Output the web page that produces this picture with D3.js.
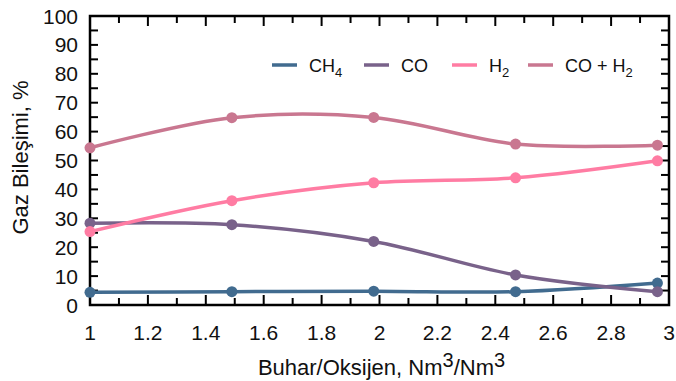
<!DOCTYPE html>
<html lang="tr">
<head>
<meta charset="utf-8">
<title>Gaz Bileşimi</title>
<script src="https://d3js.org/d3.v7.min.js"></script>
<style>
  body { margin: 0; background: #fff; }
  svg text { font-family: "Liberation Sans", Arial, sans-serif; fill: #111; }
</style>
</head>
<body>
<div id="chart"></div>
<script>
  // data
  var ratio = [1, 1.49, 1.98, 2.47, 2.96];
  var ch4   = [4.4, 4.6, 4.8, 4.6, 7.6];
  var co    = [28.3, 27.8, 22.0, 10.4, 4.6];
  var h2    = [25.4, 36.1, 42.3, 44.0, 49.9];
  var coH2  = [54.4, 64.8, 64.9, 55.7, 55.3];
  var xTicks = [1, 1.2, 1.4, 1.6, 1.8, 2, 2.2, 2.4, 2.6, 2.8, 3];
  var yTicks = [0, 10, 20, 30, 40, 50, 60, 70, 80, 90, 100];

  var series = [
    {name: "CH", sub: "4", values: ch4, color: "#416b8f"},
    {name: "CO", sub: "", values: co, color: "#79628a"},
    {name: "H", sub: "2", values: h2, color: "#ff7ca3"},
    {name: "CO + H", sub: "2", values: coH2, color: "#c97790"}
  ];

  var width = 676, height = 381;
  var m = {left: 90, right: 7, top: 16, bottom: 76};

  var svg = d3.select("#chart").append("svg")
      .attr("width", width)
      .attr("height", height);

  var x = d3.scaleLinear().domain([1, 3]).range([m.left, width - m.right]);
  var y = d3.scaleLinear().domain([0, 100]).range([height - m.bottom, m.top]);

  var x0 = x(1), x1 = x(3), y0 = y(0), y1 = y(100);

  // tick marks, all pointing inward
  var ticks = svg.append("g").attr("stroke", "#000").attr("stroke-width", 2);
  d3.range(1, 3.001, 0.1).forEach(function(v, i) {
    var len = (i % 2 === 0) ? 10 : 7;
    ticks.append("line").attr("x1", x(v)).attr("x2", x(v)).attr("y1", y0).attr("y2", y0 - len);
    ticks.append("line").attr("x1", x(v)).attr("x2", x(v)).attr("y1", y1).attr("y2", y1 + len);
  });
  d3.range(0, 100.001, 5).forEach(function(v) {
    ticks.append("line").attr("x1", x0).attr("x2", x0 + 8).attr("y1", y(v)).attr("y2", y(v));
    ticks.append("line").attr("x1", x1).attr("x2", x1 - 8).attr("y1", y(v)).attr("y2", y(v));
  });

  // frame
  svg.append("rect")
      .attr("x", x0).attr("y", y1)
      .attr("width", x1 - x0).attr("height", y0 - y1)
      .attr("fill", "none").attr("stroke", "#000").attr("stroke-width", 2.5);

  // tick labels
  svg.append("g").selectAll("text").data(xTicks).enter().append("text")
      .attr("x", function(d) { return x(d); })
      .attr("y", y0 + 35)
      .attr("text-anchor", "middle")
      .attr("font-size", 21)
      .text(function(d) { return d; });

  svg.append("g").selectAll("text").data(yTicks).enter().append("text")
      .attr("x", x0 - 12)
      .attr("y", function(d) { return y(d) + 7.5; })
      .attr("text-anchor", "end")
      .attr("font-size", 21)
      .text(function(d) { return d; });

  // axis titles
  var xt = svg.append("text")
      .attr("x", (x0 + x1) / 2 + 2)
      .attr("y", y0 + 70)
      .attr("text-anchor", "middle")
      .attr("font-size", 22);
  xt.append("tspan").text("Buhar/Oksijen, Nm");
  xt.append("tspan").attr("dy", -8).attr("font-size", 20).text("3");
  xt.append("tspan").attr("dy", 8).text("/Nm");
  xt.append("tspan").attr("dy", -8).attr("font-size", 20).text("3");

  svg.append("text")
      .attr("transform", "translate(28," + ((y0 + y1) / 2 - 3) + ") rotate(-90)")
      .attr("text-anchor", "middle")
      .attr("font-size", 22)
      .text("Gaz Bileşimi, %");

  // lines + markers
  var line = d3.line()
      .x(function(d, i) { return x(ratio[i]); })
      .y(function(d) { return y(d); })
      .curve(d3.curveCatmullRom.alpha(0.5));

  series.forEach(function(s) {
    svg.append("path")
        .attr("d", line(s.values))
        .attr("fill", "none")
        .attr("stroke", s.color)
        .attr("stroke-width", 3.5);
    svg.append("g").selectAll("circle").data(s.values).enter().append("circle")
        .attr("cx", function(d, i) { return x(ratio[i]); })
        .attr("cy", function(d) { return y(d); })
        .attr("r", 5.5)
        .attr("fill", s.color);
  });

  // legend
  var legX = [272, 364, 452, 528];
  series.forEach(function(s, i) {
    var g = svg.append("g").attr("transform", "translate(" + legX[i] + ",65)");
    g.append("line").attr("x1", 0).attr("x2", 25).attr("y1", 0).attr("y2", 0)
        .attr("stroke", s.color).attr("stroke-width", 3.5);
    var t = g.append("text").attr("x", 37).attr("y", 6.5).attr("font-size", 18);
    t.append("tspan").text(s.name);
    if (s.sub) t.append("tspan").attr("dy", 5).attr("font-size", 13).text(s.sub);
  });
</script>
</body>
</html>
